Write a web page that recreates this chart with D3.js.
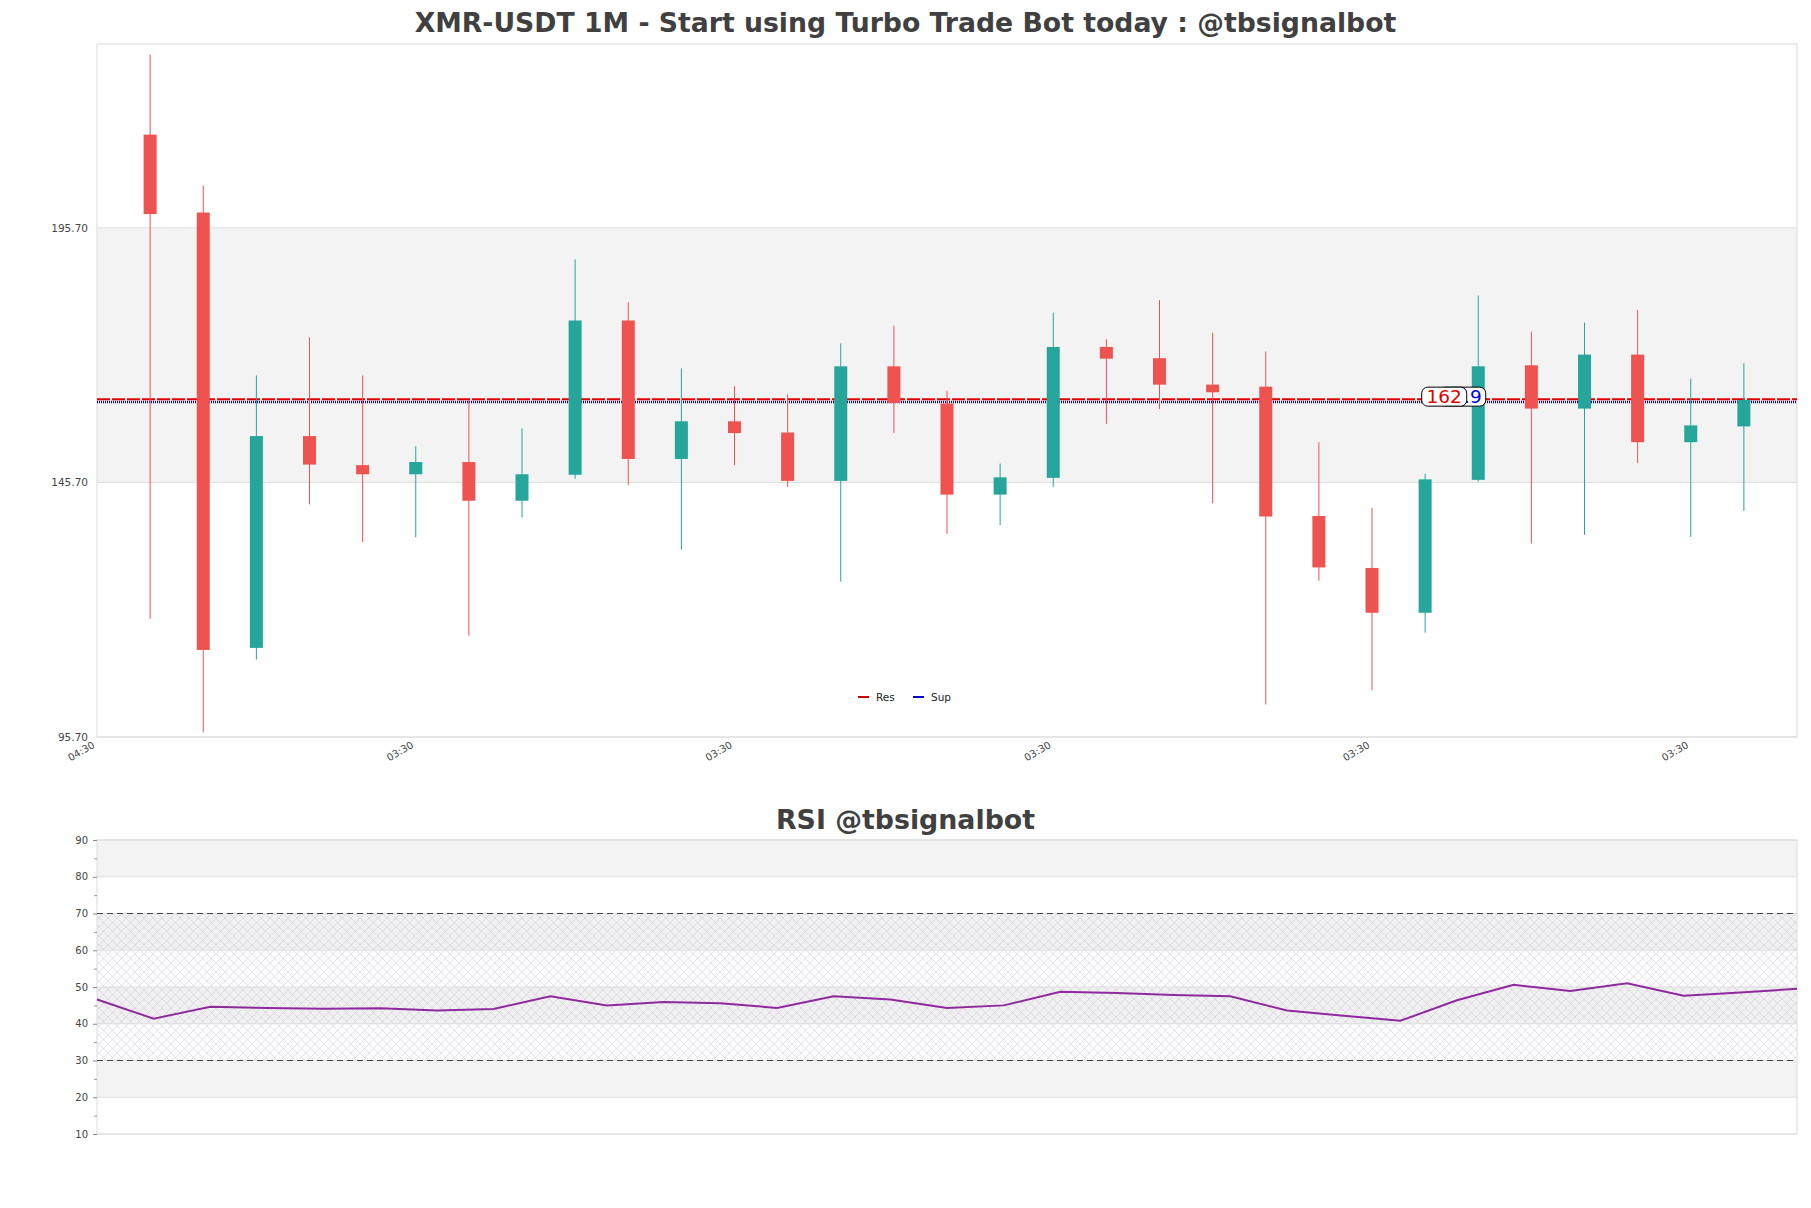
<!DOCTYPE html>
<html>
<head>
<meta charset="utf-8">
<script src="https://cdn.jsdelivr.net/npm/d3@7"></script>
<style>
html,body{margin:0;padding:0;background:#fff;}
svg{display:block;font-family:"DejaVu Sans",sans-serif;}
</style>
</head>
<body>
<svg id="chart" width="1811" height="1208"></svg>
<script>
// ---- data ----
const titleMain = "XMR-USDT 1M - Start using Turbo Trade Bot today : @tbsignalbot";
const titleRsi = "RSI @tbsignalbot";
const candleOpen  = [214.0,198.7,113.2,154.8,149.1,147.3,149.7,142.1,147.2,177.5,150.3,157.7,155.5,146.0,168.5,161.2,143.3,146.6,172.3,170.1,164.9,164.5,139.1,128.9,120.1,146.2,168.7,160.2,170.8,153.6,156.7];
const candleHigh  = [229.7,204.0,166.7,174.2,166.7,152.8,161.9,156.3,189.5,181.1,168.1,164.6,163.0,173.0,176.5,163.7,149.4,179.0,173.8,181.5,175.1,171.4,153.6,140.7,147.4,182.4,175.3,177.1,179.6,166.1,169.1];
const candleLow   = [118.9,96.6,110.9,141.4,134.0,134.9,115.6,138.8,146.4,145.2,132.5,149.1,144.8,126.2,155.4,135.6,137.3,144.8,157.2,160.1,141.6,102.1,126.4,104.9,116.2,145.9,133.7,135.4,149.5,135.0,140.1];
const candleClose = [198.4,112.8,154.8,149.2,147.3,149.7,142.1,147.3,177.5,150.3,157.7,155.4,146.0,168.5,161.3,143.3,146.7,172.3,170.0,164.9,163.4,139.0,129.0,120.1,146.3,168.5,160.2,170.8,153.6,156.9,161.9];
const rsiValues = [46.6,41.4,44.6,44.3,44.1,44.2,43.6,44.0,47.5,45.0,45.9,45.6,44.3,47.5,46.6,44.3,45.0,48.7,48.4,47.8,47.5,43.6,42.2,40.8,46.4,50.6,48.9,51.0,47.6,48.5,49.5];
const priceTicks = [95.70, 145.70, 195.70];
const priceDomain = [95.7, 231.8];
const xTickIndex = [-1, 5, 11, 17, 23, 29];
const xTickLabels = ["04:30","03:30","03:30","03:30","03:30","03:30"];
const resValue = 162.05, supValue = 161.5;
const resLabel = "162", supLabel = "161.9";
const labelIndex = 24.35;
const rsiTicks = [10,20,30,40,50,60,70,80,90];
const rsiMinor = [15,25,35,45,55,65,75,85];
const rsiShaded = [[80,90],[60,70],[40,50],[20,30]];
const legendItems = [{name:"Res", color:"#d00000"},{name:"Sup", color:"#0000c8"}];

// ---- layout ----
const W = 1811;
const main = {left:97, right:1797, top:44, bottom:737};
const rsiBox = {left:97, right:1797, top:840, bottom:1134};
const UP = "#26a69a", DOWN = "#ef5350";

const svg = d3.select("#chart");
const defs = svg.append("defs");
const pat = defs.append("pattern").attr("id","hatch").attr("width",9).attr("height",9)
  .attr("patternUnits","userSpaceOnUse");
pat.append("path").attr("d","M0,0L9,9M9,0L0,9M-1,8L1,10M8,-1L10,1")
  .attr("stroke","rgba(170,155,185,0.45)").attr("stroke-width",0.6).attr("fill","none");

// titles
svg.append("text").attr("x", W/2).attr("y", 32).attr("text-anchor","middle")
  .attr("font-size",26.7).attr("font-weight","bold").attr("fill","#404040").text(titleMain);
svg.append("text").attr("x", W/2).attr("y", 829).attr("text-anchor","middle")
  .attr("font-size",26.8).attr("font-weight","bold").attr("fill","#404040").text(titleRsi);

// ---- main chart ----
const x = d3.scaleLinear().domain([-1, candleOpen.length]).range([main.left, main.right]);
const y = d3.scaleLinear().domain(priceDomain).range([main.bottom, main.top]);
const g = svg.append("g");

g.append("rect").attr("x",main.left).attr("y",y(priceTicks[2])).attr("width",main.right-main.left)
  .attr("height",y(priceTicks[1])-y(priceTicks[2])).attr("fill","#f3f3f3");
priceTicks.forEach(v=>{
  g.append("line").attr("x1",main.left).attr("x2",main.right).attr("y1",y(v)).attr("y2",y(v))
    .attr("stroke","#dedede").attr("stroke-width",1);
});
g.append("rect").attr("x",main.left).attr("y",main.top).attr("width",main.right-main.left)
  .attr("height",main.bottom-main.top).attr("fill","none").attr("stroke","#dcdcdc");

const yAxis = d3.axisLeft(y).tickValues(priceTicks).tickFormat(d3.format(".2f")).tickSize(0).tickPadding(9);
const ya = g.append("g").attr("transform",`translate(${main.left},0)`).call(yAxis);
ya.select(".domain").remove();
ya.selectAll("text").attr("font-size",10.5).attr("fill","#444").attr("font-family","DejaVu Sans");

const xAxis = d3.axisBottom(x).tickValues(xTickIndex).tickFormat((d,i)=>xTickLabels[i]).tickSize(0);
const xa = g.append("g").attr("transform",`translate(0,${main.bottom})`).call(xAxis);
xa.select(".domain").remove();
xa.selectAll("text").attr("font-size",10).attr("fill","#444").attr("font-family","DejaVu Sans")
  .attr("text-anchor","end").attr("dy",0).attr("y",0)
  .attr("transform","translate(-2,10) rotate(-30)");

// Res / Sup lines
g.append("line").attr("x1",main.left).attr("x2",main.right).attr("y1",y(supValue)).attr("y2",y(supValue))
  .attr("stroke","#0000c8").attr("stroke-width",2.6).attr("stroke-dasharray","1,1");
g.append("line").attr("x1",main.left).attr("x2",main.right).attr("y1",y(resValue)).attr("y2",y(resValue))
  .attr("stroke","#e00000").attr("stroke-width",2).attr("stroke-dasharray","13,2");

// candles
const bw = 13;
const idx = d3.range(candleOpen.length);
g.append("g").selectAll("line").data(idx).join("line")
  .attr("x1",i=>x(i)).attr("x2",i=>x(i)).attr("y1",i=>y(candleHigh[i])).attr("y2",i=>y(candleLow[i]))
  .attr("stroke",i=>candleClose[i]>=candleOpen[i]?UP:DOWN).attr("stroke-width",1);
g.append("g").selectAll("rect").data(idx).join("rect")
  .attr("x",i=>x(i)-bw/2).attr("width",bw)
  .attr("y",i=>y(Math.max(candleOpen[i],candleClose[i])))
  .attr("height",i=>Math.max(1,Math.abs(y(candleOpen[i])-y(candleClose[i]))))
  .attr("fill",i=>candleClose[i]>=candleOpen[i]?UP:DOWN);

// labels
const ly = y(resValue) - 2.5;
const bx = x(labelIndex);
g.append("rect").attr("x",bx-4).attr("y",ly-9.5).attr("width",46).attr("height",19).attr("rx",6)
  .attr("fill","#fff").attr("stroke","#000").attr("stroke-width",1);
g.append("text").attr("x",bx+38).attr("y",ly+6.5).attr("text-anchor","end").attr("font-size",18.5)
  .attr("fill","#0000e0").text(supLabel);
g.append("rect").attr("x",bx-22).attr("y",ly-9.5).attr("width",45).attr("height",19).attr("rx",6)
  .attr("fill","#fff").attr("stroke","#000").attr("stroke-width",1);
g.append("text").attr("x",bx+0.5).attr("y",ly+6.5).attr("text-anchor","middle").attr("font-size",18.5)
  .attr("fill","#e00000").text(resLabel);

// legend
const lg = g.append("g").attr("transform","translate(858,697)");
legendItems.forEach((d,i)=>{
  const ox = i*55;
  lg.append("line").attr("x1",ox).attr("x2",ox+11).attr("y1",0).attr("y2",0).attr("stroke",d.color).attr("stroke-width",2);
  lg.append("text").attr("x",ox+18).attr("y",4).attr("font-size",10.5).attr("fill","#222").text(d.name);
});

// ---- RSI chart ----
const xr = d3.scaleLinear().domain([0, rsiValues.length-1]).range([rsiBox.left, rsiBox.right]);
const yr = d3.scaleLinear().domain([10,90]).range([rsiBox.bottom, rsiBox.top]);
const r = svg.append("g");
rsiShaded.forEach(b=>{
  r.append("rect").attr("x",rsiBox.left).attr("width",rsiBox.right-rsiBox.left)
    .attr("y",yr(b[1])).attr("height",yr(b[0])-yr(b[1])).attr("fill","#f3f3f3");
});
r.append("rect").attr("x",rsiBox.left).attr("width",rsiBox.right-rsiBox.left)
  .attr("y",yr(70)).attr("height",yr(30)-yr(70)).attr("fill","rgba(140,90,170,0.02)");
r.append("rect").attr("x",rsiBox.left).attr("width",rsiBox.right-rsiBox.left)
  .attr("y",yr(70)).attr("height",yr(30)-yr(70)).attr("fill","url(#hatch)");
rsiTicks.forEach(v=>{
  r.append("line").attr("x1",rsiBox.left).attr("x2",rsiBox.right).attr("y1",yr(v)).attr("y2",yr(v))
    .attr("stroke","#dedede");
});
r.append("rect").attr("x",rsiBox.left).attr("y",rsiBox.top).attr("width",rsiBox.right-rsiBox.left)
  .attr("height",rsiBox.bottom-rsiBox.top).attr("fill","none").attr("stroke","#dcdcdc");
[70,30].forEach(v=>{
  r.append("line").attr("x1",rsiBox.left).attr("x2",rsiBox.right).attr("y1",yr(v)).attr("y2",yr(v))
    .attr("stroke","#444").attr("stroke-width",1.2).attr("stroke-dasharray","6,4");
});
const ra = r.append("g").attr("transform",`translate(${rsiBox.left},0)`)
  .call(d3.axisLeft(yr).tickValues(rsiTicks).tickSize(4).tickPadding(5));
ra.select(".domain").remove();
ra.selectAll("line").attr("stroke","#888");
ra.selectAll("text").attr("font-size",10).attr("fill","#444").attr("font-family","DejaVu Sans");
const rm = r.append("g").attr("transform",`translate(${rsiBox.left},0)`)
  .call(d3.axisLeft(yr).tickValues(rsiMinor).tickSize(3).tickFormat(""));
rm.select(".domain").remove();
rm.selectAll("line").attr("stroke","#999");

r.append("path").datum(rsiValues)
  .attr("d", d3.line().x((d,i)=>xr(i)).y(d=>yr(d)))
  .attr("fill","none").attr("stroke","#8e2a9e").attr("stroke-width",2);
</script>
</body>
</html>
